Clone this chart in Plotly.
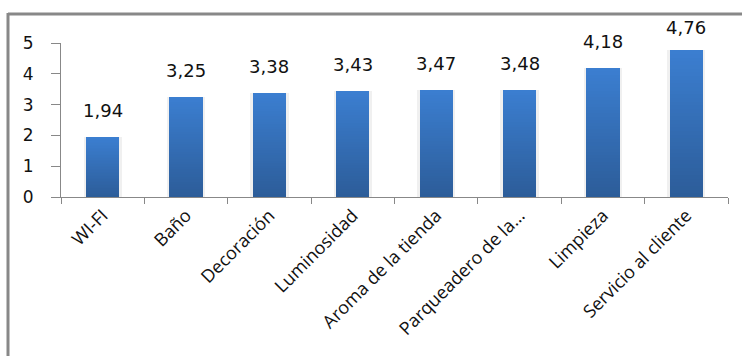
import plotly.graph_objects as go

categorias = ["WI-FI", "Baño", "Decoración", "Luminosidad", "Aroma de la tienda",
              "Parqueadero de la…", "Limpieza", "Servicio al cliente"]
valores = [1.94, 3.25, 3.38, 3.43, 3.47, 3.48, 4.18, 4.76]
etiquetas = ["1,94", "3,25", "3,38", "3,43", "3,47", "3,48", "4,18", "4,76"]
ticks_y = [0, 1, 2, 3, 4, 5]

W, H = 742, 356
ML, MR, MT, MB = 61, 14, 43, 159
PX_POR_UNIDAD = (H - MT - MB) / 5

color_arriba = (59, 126, 208)
color_abajo = (44, 92, 152)
N = 40

fig = go.Figure()

# soft shadow behind each bar
fig.add_trace(go.Bar(x=categorias, y=valores, width=0.46,
                     marker=dict(color="rgba(0,0,0,0.06)", line=dict(width=0)),
                     hoverinfo="skip", showlegend=False))

# vertical gradient: nested bars from the full value downwards, each darker
for k in range(N):
    t = 1 - k / N
    c = tuple(round(color_abajo[i] + (color_arriba[i] - color_abajo[i]) * t) for i in range(3))
    fig.add_trace(go.Bar(
        x=categorias,
        y=[v * (N - k) / N for v in valores],
        width=0.4,
        marker=dict(color="rgb(%d,%d,%d)" % c, line=dict(width=0)),
        hoverinfo="skip", showlegend=False))

for cat, v, lab in zip(categorias, valores, etiquetas):
    desplaz = min(14, (5 - v) * PX_POR_UNIDAD + 3)
    fig.add_annotation(x=cat, y=v, text=lab, showarrow=False, yanchor="bottom",
                       yshift=desplaz, font=dict(family="DejaVu Sans", size=18, color="#111"))

# chart frame (left and top edges)
px = lambda x: (x - ML) / (W - ML - MR)
py = lambda y: 1 - (y - MT) / (H - MT - MB)
fig.add_shape(type="line", xref="paper", yref="paper", x0=px(8), x1=px(745),
              y0=py(14), y1=py(14), line=dict(color="#888", width=3))
fig.add_shape(type="line", xref="paper", yref="paper", x0=px(8), x1=px(8),
              y0=py(13), y1=py(360), line=dict(color="#888", width=3))

fig.update_layout(
    width=W, height=H, barmode="overlay", bargap=0,
    margin=dict(l=ML, r=MR, t=MT, b=MB),
    paper_bgcolor="white", plot_bgcolor="white",
    xaxis=dict(showgrid=False, showline=True, linecolor="#888", linewidth=1,
               ticks="outside", tickson="boundaries", ticklen=6, tickcolor="#888",
               tickangle=-45, tickfont=dict(family="Open Sans", size=18, color="#111")),
    yaxis=dict(range=[0, 5], tickvals=ticks_y, showgrid=False, zeroline=False,
               showline=True, linecolor="#888", linewidth=1, ticks="outside",
               ticklen=9, tickcolor="#888", ticklabelstandoff=14,
               tickfont=dict(family="DejaVu Sans", size=17, color="#111")),
)

fig.write_html("out.html")
